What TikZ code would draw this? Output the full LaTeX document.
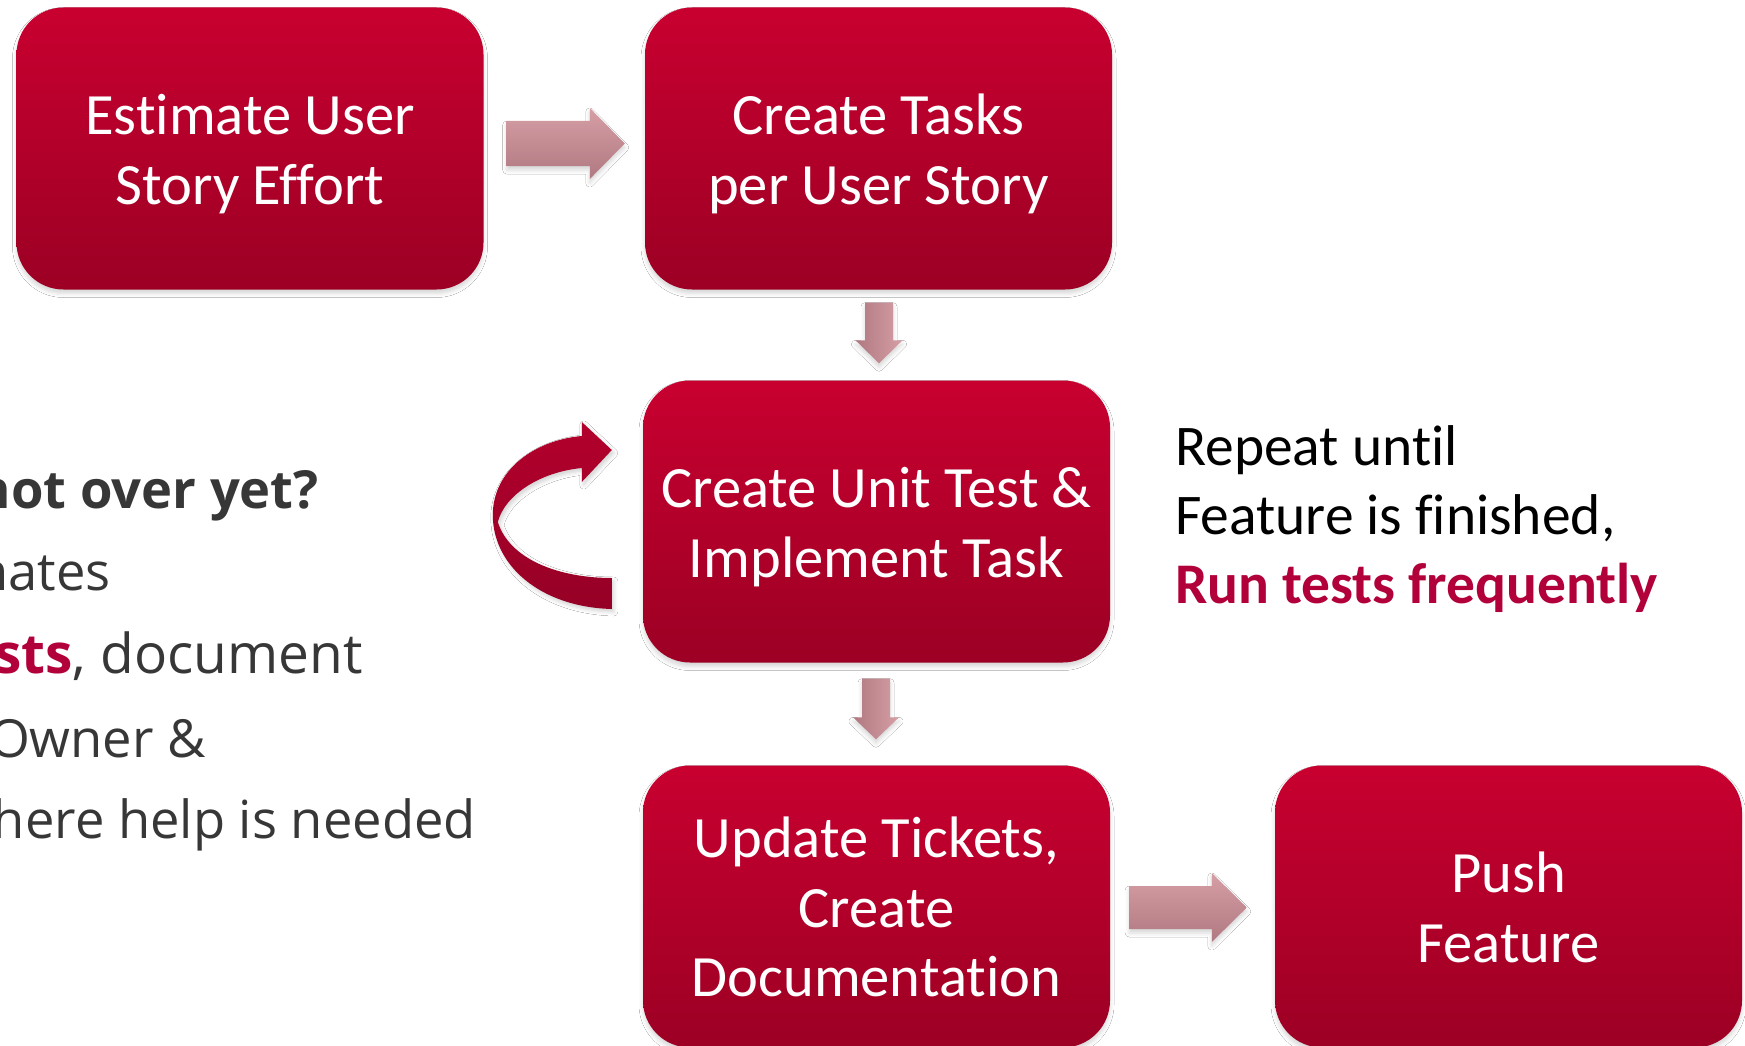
\documentclass[tikz,border=0pt]{standalone}
\usepackage{fontspec}
\setmainfont{Carlito}[Ligatures={NoCommon}]
\newfontfamily\sidefont{Open Sans}
\usetikzlibrary{calc,shadows.blur}
\definecolor{boxtop}{RGB}{200,0,48}
\definecolor{boxbot}{RGB}{156,0,36}
\definecolor{arrlight}{RGB}{214,158,165}
\definecolor{arrdark}{RGB}{176,120,128}
\definecolor{curvetop}{RGB}{178,0,44}
\definecolor{curvebot}{RGB}{150,0,38}
\definecolor{darktext}{RGB}{55,55,55}
\definecolor{accent}{RGB}{178,0,58}
\newcommand{\capline}[1]{\rule{0pt}{\dimexpr0.644em+4pt\relax}\smash{#1}}
\begin{document}
\begin{tikzpicture}[x=1pt,y=-1pt,
  bigfont/.style={font=\fontsize{58.5}{69.5}\selectfont},
  softshadow/.style={blur shadow={shadow xshift=0pt,shadow yshift=-4pt,shadow blur radius=4pt,shadow opacity=16}},
  box/.style={rounded corners=47pt,minimum width=467pt,minimum height=282pt,inner sep=0pt,
    align=center,text=white,top color=boxtop,bottom color=boxbot,bigfont,softshadow},
  harrow/.style={top color=arrlight,bottom color=arrdark,softshadow},
  varrow/.style={left color=arrdark,right color=arrlight,softshadow},
  lefttext/.style={anchor=base east,inner sep=0pt,text=darktext,font=\sidefont\fontsize{52.5}{63}\selectfont},
  loop/.style={top color=curvetop,bottom color=curvebot,blur shadow={shadow xshift=2pt,shadow yshift=-3pt,shadow blur radius=4pt,shadow opacity=18}}
]
\path[fill=white] (0,0) rectangle (1745,1046);
\useasboundingbox (0,0) rectangle (1745,1046);

% boxes
\node[box] (b1) at (250,148.5) {\capline{Estimate User}\\\capline{Story Effort}};
\node[box] (b2) at (878.5,148.5) {\capline{Create Tasks}\\\capline{per User Story}};
\node[box] (b3) at (876.5,521.5) {\capline{Create Unit Test \&}\\\capline{Implement Task}};
\node[box] (b4) at (876.5,906.5) {\capline{Update Tickets,}\\\capline{Create}\\\capline{Documentation}};
\node[box] (b5) at (1508.5,906.5) {\capline{Push}\\\capline{Feature}};

% block arrows
\coordinate (a1s) at ($(b1.east)+(23,-5)$);
\coordinate (a1e) at ($(b2.west)+(-20,-5)$);
\path[harrow] ($(a1s)+(0,-22.5)$) -- ($(a1e)+(-35,-22.5)$) -- ($(a1e)+(-35,-35.5)$) -- (a1e)
  -- ($(a1e)+(-35,35.5)$) -- ($(a1e)+(-35,22.5)$) -- ($(a1s)+(0,22.5)$) -- cycle;

\coordinate (a2s) at ($(b4.east)+(19,1)$);
\coordinate (a2e) at ($(b5.west)+(-28,1)$);
\path[harrow] ($(a2s)+(0,-21.5)$) -- ($(a2e)+(-35,-21.5)$) -- ($(a2e)+(-35,-34.5)$) -- (a2e)
  -- ($(a2e)+(-35,34.5)$) -- ($(a2e)+(-35,21.5)$) -- ($(a2s)+(0,21.5)$) -- cycle;

\coordinate (d1s) at ($(b2.south)+(0.5,13)$);
\coordinate (d1e) at ($(b3.north)+(2.5,-17)$);
\path[varrow] ($(d1s)+(-14,0)$) -- ($(d1e)+(-14,-23)$) -- ($(d1e)+(-23.5,-23)$) -- (d1e)
  -- ($(d1e)+(23.5,-23)$) -- ($(d1e)+(14,-23)$) -- ($(d1s)+(14,0)$) -- cycle;

\coordinate (d2s) at ($(b3.south)+(-0.5,16)$);
\coordinate (d2e) at ($(b4.north)+(-0.5,-26)$);
\path[varrow] ($(d2s)+(-14,0)$) -- ($(d2e)+(-14,-22)$) -- ($(d2e)+(-23,-22)$) -- (d2e)
  -- ($(d2e)+(23,-22)$) -- ($(d2e)+(14,-22)$) -- ($(d2s)+(14,0)$) -- cycle;

% curved loop arrow on b3
\begin{scope}[shift={(b3.west)}]
\path[loop] (-31,87.5) .. controls (-103,85.5) and (-150,43.5) .. (-150,-6.5)
  .. controls (-150,-51.5) and (-108,-81.5) .. (-61,-85.5)
  -- (-61,-99.5) -- (-31,-71.5) -- (-61,-39.5) -- (-61,-53.5)
  .. controls (-103,-49.5) and (-138,-26.5) .. (-145,0.5)
  .. controls (-133,38.5) and (-83,56.5) .. (-31,56.5) -- cycle;
\end{scope}

% left text (cut off at the left edge)
\node[lefttext,font=\sidefont\fontsize{52.5}{63}\selectfont\bfseries] (t1) at (319,508) {not over yet?};
\node[lefttext] (t2) at (111,590) {nates};
\node[lefttext,font=\sidefont\fontsize{55}{63}\selectfont] (t3) at (363,673) {\textbf{\textcolor{accent}{sts}}, document};
\node[lefttext] (t4) at (206,757) {Owner \&};
\node[lefttext] (t5) at (476,838) {here help is needed};

% right text
\node[anchor=north west,align=left,inner sep=0pt,text=black,font=\fontsize{57.5}{69}\selectfont] (rt) at (1175,424)
  {\capline{Repeat until}\\\capline{Feature is finished,}\\\capline{\textbf{\textcolor{accent}{Run tests frequently}}}};
\end{tikzpicture}
\end{document}
